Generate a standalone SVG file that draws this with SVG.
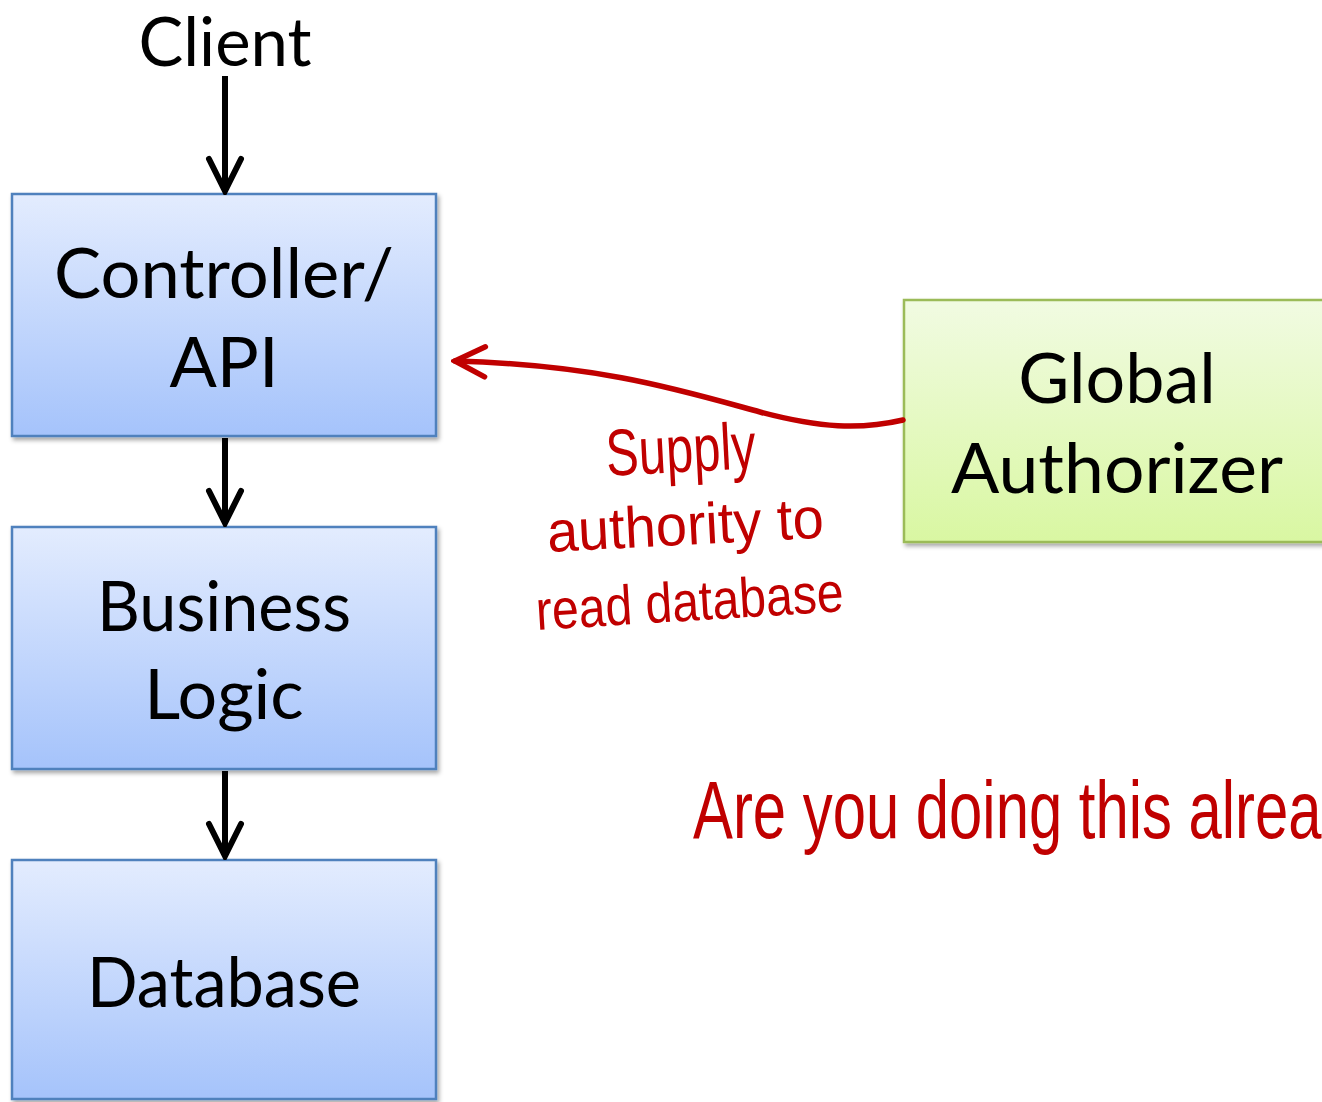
<svg xmlns="http://www.w3.org/2000/svg" width="1322" height="1102" viewBox="0 0 1322 1102">
  <defs>
    <linearGradient id="blueFill" x1="0" y1="0" x2="0" y2="1">
      <stop offset="0" stop-color="#e3ecfe"/>
      <stop offset="1" stop-color="#a5c3fb"/>
    </linearGradient>
    <linearGradient id="greenFill" x1="0" y1="0" x2="0" y2="1">
      <stop offset="0" stop-color="#f1fbe2"/>
      <stop offset="1" stop-color="#d9f7a2"/>
    </linearGradient>
    <filter id="shadow" x="-5%" y="-5%" width="112%" height="115%">
      <feDropShadow dx="2" dy="3" stdDeviation="2" flood-color="#000" flood-opacity="0.35"/>
    </filter>
    <marker id="chevBlack" viewBox="-40 -20 44 40" markerUnits="userSpaceOnUse" markerWidth="44" markerHeight="40" refX="0" refY="0" orient="auto">
      <path d="M-32,-16 L0,0 L-32,16" fill="none" stroke="#000" stroke-width="6" stroke-linecap="round" stroke-linejoin="miter"/>
    </marker>
    <marker id="chevRed" viewBox="-40 -20 44 40" markerUnits="userSpaceOnUse" markerWidth="44" markerHeight="40" refX="0" refY="0" orient="auto">
      <path d="M-30,-15 L0,0 L-30,15" fill="none" stroke="#c00000" stroke-width="5.5" stroke-linecap="round" stroke-linejoin="miter"/>
    </marker>
  </defs>
  <style>
    .box-blue { fill: url(#blueFill); stroke: #4f81bd; stroke-width: 2.5; filter: url(#shadow); }
    .box-green { fill: url(#greenFill); stroke: #9bbb59; stroke-width: 2.5; filter: url(#shadow); }
    .label { font-family: Lato, "Open Sans", "DejaVu Sans", sans-serif; font-size: 70px; fill: #000; text-anchor: middle; }
    .flow { fill: none; stroke: #000; stroke-width: 6; marker-end: url(#chevBlack); }
    .note { font-family: "Liberation Sans", Arial, sans-serif; fill: #c00000; }
  </style>

  <rect width="1322" height="1102" fill="#fff"/>

  <!-- caller -->
  <g id="client">
    <text class="label" x="225" y="66" style="font-size:67px">Client</text>
  </g>

  <g id="controller-api">
    <rect class="box-blue" x="12" y="194" width="424" height="242"/>
    <text class="label" x="224" y="298" textLength="340" lengthAdjust="spacingAndGlyphs">Controller/</text>
    <text class="label" x="224" y="387">API</text>
  </g>

  <g id="business-logic">
    <rect class="box-blue" x="12" y="527" width="424" height="242"/>
    <text class="label" x="224" y="631" textLength="254" lengthAdjust="spacingAndGlyphs">Business</text>
    <text class="label" x="224" y="719">Logic</text>
  </g>

  <g id="database">
    <rect class="box-blue" x="12" y="860" width="424" height="239"/>
    <text class="label" x="224" y="1007" textLength="274" lengthAdjust="spacingAndGlyphs">Database</text>
  </g>

  <g id="global-authorizer">
    <rect class="box-green" x="904" y="300" width="428" height="242"/>
    <text class="label" x="1117" y="403">Global</text>
    <text class="label" x="1117" y="493" textLength="332" lengthAdjust="spacingAndGlyphs">Authorizer</text>
  </g>

  <!-- connectors -->
  <g id="connectors">
    <path class="flow" d="M225,76 L225,191"/>
    <path class="flow" d="M225,438 L225,523"/>
    <path class="flow" d="M225,771 L225,856"/>
    <path d="M903,420 C860,430 820,428 760,412 C680,390 600,365 455,361" fill="none" stroke="#c00000" stroke-width="5.5" stroke-linecap="round" marker-end="url(#chevRed)"/>
  </g>

  <!-- handwritten annotations -->
  <g id="annotation-supply">
    <text class="note" x="607" y="476" font-size="66" textLength="150" lengthAdjust="spacingAndGlyphs" transform="rotate(-3 607 476)">Supply</text>
    <text class="note" x="548" y="552" font-size="58" textLength="277" lengthAdjust="spacingAndGlyphs" transform="rotate(-3 548 552)">authority to</text>
    <text class="note" x="537" y="630" font-size="56" textLength="308" lengthAdjust="spacingAndGlyphs" transform="rotate(-3.5 537 630)">read database</text>
  </g>

  <g id="annotation-question">
    <text class="note" x="693" y="838" font-size="82" textLength="725" lengthAdjust="spacingAndGlyphs">Are you doing this already?</text>
  </g>
</svg>
